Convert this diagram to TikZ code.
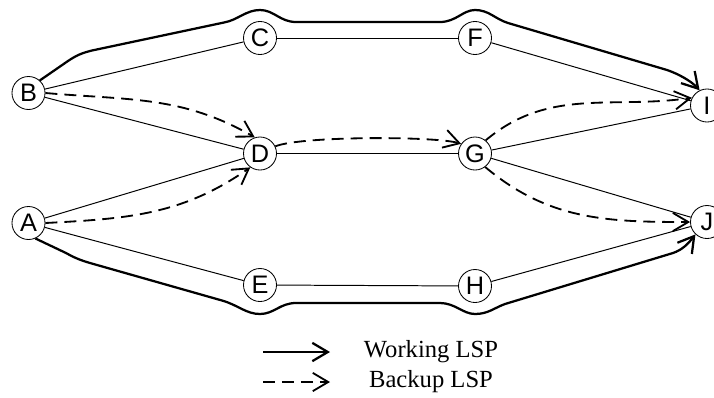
\documentclass[tikz,border=0pt]{standalone}
\usepackage{fontspec}
\setmainfont{Liberation Serif}
\setsansfont{Liberation Sans}
\usetikzlibrary{arrows.meta}

\begin{document}
\begin{tikzpicture}[x=0.025cm,y=0.025cm,
        router/.style={circle,draw,line width=0.6pt,fill=white,inner sep=0pt,
            minimum size=0.825cm,font=\sffamily\fontsize{18}{18}\selectfont},
        link/.style={line width=0.7pt},
        working/.style={line width=1.6pt,-{Straight Barb[length=11pt,width=13pt]}},
        backup/.style={line width=1.3pt,dash pattern=on 8.5pt off 5pt,
            -{Straight Barb[length=11pt,width=13pt]}}]
                \useasboundingbox (0,0) rectangle (714,397);
                \foreach \n/\x/\y in {A/28.5/174,B/28.5/304,C/260/359,D/260/243.5,E/260/112,
                    F/475/359,G/475/243.5,H/475/111,I/707/291.5,J/707/175}{
                    \node[router] (\n) at (\x,\y) {\n};
                }
                \foreach \s/\t in {B/C,B/D,A/D,A/E,C/F,D/G,E/H,F/I,G/I,G/J,H/J}{
                    \draw[link] (\s) -- (\t);
                }
                \draw[working] (B.48) -- (68,336) .. controls (77,342) and (82,344) .. (92,346.5)
                    -- (224,374.5)
                    .. controls (238,377) and (246,387) .. (260,387)
                    .. controls (274,387) and (280,375) .. (296,375) -- (440,375)
                    .. controls (456,375) and (463,387) .. (475,387)
                    .. controls (489,387) and (495,378) .. (508,374) -- (667,327)
                    .. controls (684,321) and (694,313) .. (I.116);
                \draw[working] (A.-66) -- (66,144) .. controls (75,139) and (80,137) .. (90,134)
                    -- (222,96.5)
                    .. controls (238,92) and (246,83) .. (260,83)
                    .. controls (274,83) and (280,94) .. (296,94) -- (440,94)
                    .. controls (455,94) and (463,83) .. (475,83)
                    .. controls (488,83) and (494,89) .. (505,93) -- (673,144)
                    .. controls (682,147) and (688,153) .. (J.227);
                \draw[backup] (B.east) to[out=-5,in=150] (D.108);
                \draw[backup] (A.east) to[out=3,in=215] (D.235);
                \draw[backup] (D.25) .. controls (300,261) and (435,261) .. (G.145);
                \draw[backup] (G.51) to[out=40,in=188] (I.153);
                \draw[backup] (G.-53) to[out=-40,in=180] (J.west);
                \coordinate (ws) at (263,45);
                \coordinate (we) at (330,45);
                \coordinate (bs) at (263,15);
                \coordinate (be) at (330,15);
                \draw[working] (ws) -- (we);
                \draw[backup] (bs) -- (be);
                \node[font=\fontsize{17.5}{17.5}\selectfont] (wlabel) at (431,45) {Working LSP};
                \node[font=\fontsize{17.5}{17.5}\selectfont] (blabel) at (431,15) {Backup LSP};
            \end{tikzpicture}
\end{document}
